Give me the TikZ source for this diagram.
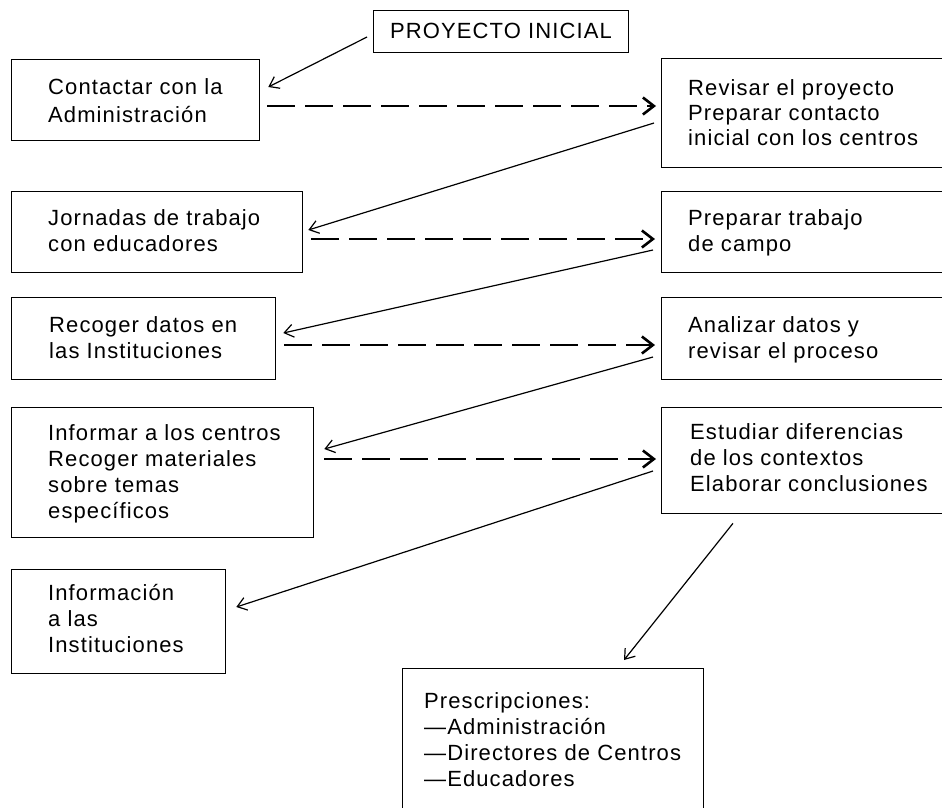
\documentclass[tikz,border=0pt]{standalone}
\usepackage{fontspec}
\setmainfont[LetterSpace=5]{Liberation Sans}
\usetikzlibrary{arrows.meta,calc}
\newcommand{\ml}[1]{\begin{tabular}[t]{@{}l@{}}#1\end{tabular}}
\begin{document}
\begin{tikzpicture}[x=1pt,y=-1pt,
  box/.style={draw, line width=1.3pt, rectangle, inner sep=0pt, anchor=north west},
  txt/.style={anchor=base west, inner sep=0pt, font=\fontsize{22}{26}\selectfont},
  link/.style={line width=1.2pt, -{Straight Barb[length=9pt,width=13pt]}},
  dlink/.style={line width=2.6pt, dash pattern=on 28pt off 10pt, -{Straight Barb[length=11pt,width=17pt]}}]
\useasboundingbox (0,0) rectangle (942,807);
\fill[white] (0,0) rectangle (942,807);
\clip (0,0) rectangle (942,807);

% boxes
\node[box, minimum width=255pt, minimum height=42pt] (p0) at (373,10) {};
\node[box, minimum width=248pt, minimum height=81pt] (b1) at (11,59) {};
\node[box, minimum width=300pt, minimum height=109pt] (r1) at (661,58) {};
\node[box, minimum width=291pt, minimum height=81pt] (b2) at (11,191) {};
\node[box, minimum width=300pt, minimum height=81pt] (r2) at (661,191) {};
\node[box, minimum width=264pt, minimum height=82pt] (b3) at (11,297) {};
\node[box, minimum width=300pt, minimum height=82pt] (r3) at (661,297) {};
\node[box, minimum width=302pt, minimum height=130pt] (b4) at (11,407) {};
\node[box, minimum width=300pt, minimum height=106pt] (r4) at (661,407) {};
\node[box, minimum width=214pt, minimum height=104pt] (b5) at (11,569) {};
\node[box, minimum width=301pt, minimum height=160pt] (pr) at (402,668) {};

% texts
\node[txt] (p0t) at (390,38) {PROYECTO INICIAL};
\node[txt] (b1t) at (48,94) {\ml{Contactar con la\\[2pt]Administración}};
\node[txt] (r1t) at (688,95) {\ml{Revisar el proyecto\\[-1pt]Preparar contacto\\[-1pt]inicial con los centros}};
\node[txt] (b2t) at (48,225) {\ml{Jornadas de trabajo\\con educadores}};
\node[txt] (r2t) at (688,225) {\ml{Preparar trabajo\\de campo}};
\node[txt] (b3t) at (49,332) {\ml{Recoger datos en\\las Instituciones}};
\node[txt] (r3t) at (688,332) {\ml{Analizar datos y\\revisar el proceso}};
\node[txt] (b4t) at (48,440) {\ml{Informar a los centros\\Recoger materiales\\sobre temas\\específicos}};
\node[txt] (r4t) at (690,439) {\ml{Estudiar diferencias\\de los contextos\\Elaborar conclusiones}};
\node[txt] (b5t) at (48,600) {\ml{Información\\a las\\Instituciones}};
\node[txt] (prt) at (424,708) {\ml{Prescripciones:\\—Administración\\—Directores de Centros\\—Educadores}};

% solid connectors
\draw[link] ($(p0.north west)+(-6,27)$) -- ($(b1.north east)+(8,28)$);
\draw[link] ($(r1.north west)+(-7,65)$) -- ($(b2.north east)+(5,39)$);
\draw[link] ($(r2.north west)+(-8,59)$) -- ($(b3.north east)+(7,36)$);
\draw[link] ($(r3.north west)+(-8,60)$) -- ($(b4.north east)+(10,42)$);
\draw[link] ($(r4.north west)+(-8,64)$) -- ($(b5.north east)+(10,38)$);
\draw[link] ($(r4.south west)+(72,9)$) -- ($(pr.north west)+(222,-8)$);

% dashed connectors
\draw[dlink] ($(b1.north east)+(7,47)$) -- ($(r1.north west)+(-5,48)$);
\draw[dlink] ($(b2.north east)+(8,48)$) -- ($(r2.north west)+(-6,48)$);
\draw[dlink] ($(b3.north east)+(8,48)$) -- ($(r3.north west)+(-6,48)$);
\draw[dlink] ($(b4.north east)+(10,52)$) -- ($(r4.north west)+(-5,52)$);
\end{tikzpicture}
\end{document}
